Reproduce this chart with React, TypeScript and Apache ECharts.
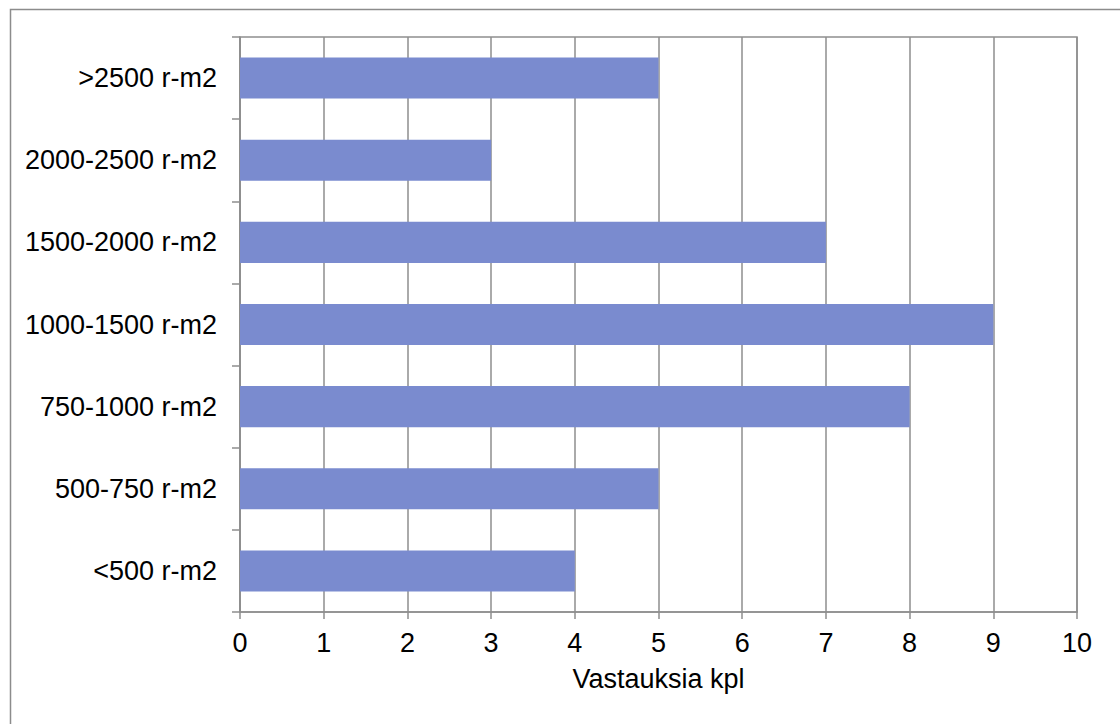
import React, { useEffect, useRef } from "react";
import * as echarts from "echarts";

const categories = [
  "<500 r-m2",
  "500-750 r-m2",
  "750-1000 r-m2",
  "1000-1500 r-m2",
  "1500-2000 r-m2",
  "2000-2500 r-m2",
  ">2500 r-m2",
];
const values = [4, 5, 8, 9, 7, 3, 5];
const axisName = "Vastauksia kpl";
const xMin = 0;
const xMax = 10;
const xInterval = 1;

export default function App() {
  const ref = useRef<HTMLDivElement>(null);
  useEffect(() => {
    document.body.style.margin = "0";
    const chart = echarts.init(ref.current!, null, { renderer: "svg" });
    const font = "'Liberation Sans', Arial, sans-serif";
    chart.setOption({
      animation: false,
      backgroundColor: "#ffffff",
      textStyle: { fontFamily: font },
      graphic: [
        {
          type: "rect",
          shape: { x: 10.5, y: 9.5, width: 1200, height: 800 },
          style: { fill: "none", stroke: "#8c8c8c", lineWidth: 1.5 },
          silent: true,
        },
      ],
      grid: {
        left: 240,
        top: 37,
        right: 43,
        bottom: 112,
        show: true,
        borderColor: "#8e8e8e",
        borderWidth: 1.5,
        backgroundColor: "transparent",
      },
      xAxis: {
        type: "value",
        min: xMin,
        max: xMax,
        interval: xInterval,
        name: axisName,
        nameLocation: "middle",
        nameGap: 53,
        nameTextStyle: { fontSize: 27, color: "#000", fontFamily: font },
        axisLine: { show: true, lineStyle: { color: "#8e8e8e", width: 1.5 } },
        axisTick: { show: true, length: 7, lineStyle: { color: "#8e8e8e", width: 1.5 } },
        axisLabel: { fontSize: 27, color: "#000", margin: 17, fontFamily: font },
        splitLine: { show: true, lineStyle: { color: "#8e8e8e", width: 1.5 } },
      },
      yAxis: {
        type: "category",
        data: categories,
        axisLine: { show: true, lineStyle: { color: "#8e8e8e", width: 1.5 } },
        axisTick: { show: true, length: 8, alignWithLabel: false, lineStyle: { color: "#8e8e8e", width: 1.5 } },
        axisLabel: { fontSize: 27, color: "#000", margin: 23, fontFamily: font },
        splitLine: { show: false },
      },
      series: [
        {
          type: "bar",
          data: values,
          barCategoryGap: "50%",
          itemStyle: { color: "#7a8bcf" },
        },
      ],
    });
    return () => chart.dispose();
  }, []);
  return (
    <div
      ref={ref}
      style={{ position: "fixed", left: 0, top: 0, width: 1120, height: 724 }}
    />
  );
}
